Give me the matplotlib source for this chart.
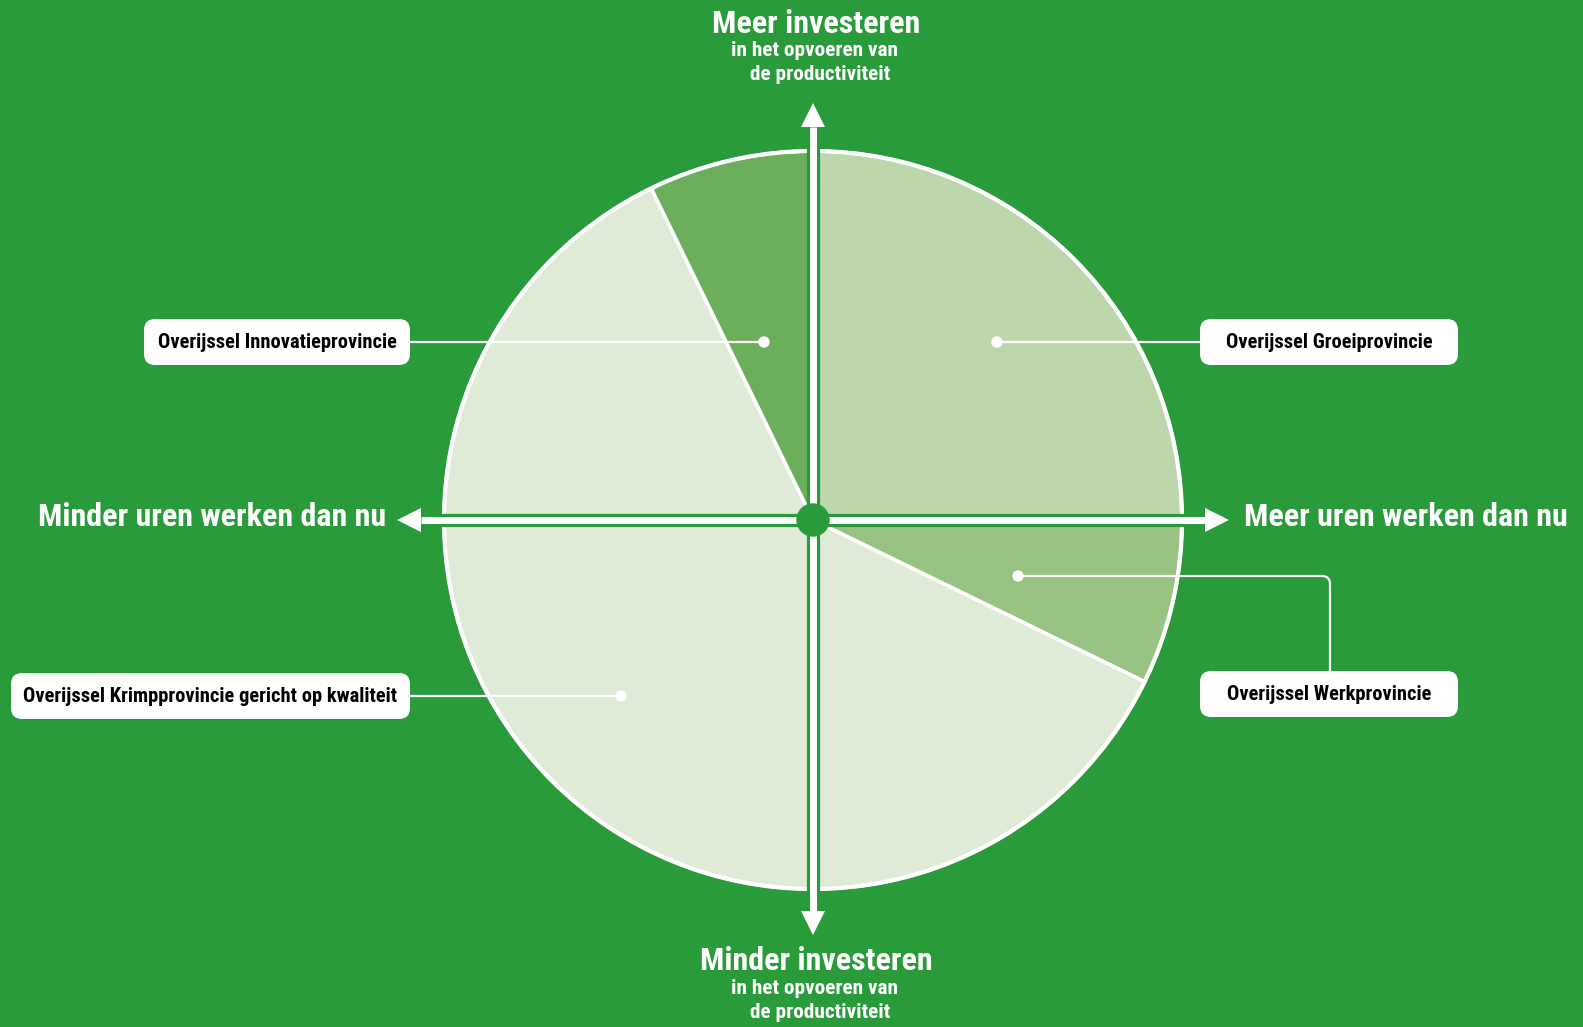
import matplotlib
matplotlib.use("Agg")
import matplotlib.pyplot as plt
from matplotlib import font_manager
from matplotlib.patches import Circle, FancyBboxPatch, PathPatch
from matplotlib.path import Path
import matplotlib.patheffects as pe

# sector sizes (degrees of the circle), clockwise from the top
labels = ["Overijssel Groeiprovincie", "Overijssel Werkprovincie",
          "Overijssel Krimpprovincie gericht op kwaliteit", "Overijssel Innovatieprovincie"]
values = [90, 26, 218, 26]
colors = ["#bdd7ad", "#99c383", "#dfebd7", "#6baf5c"]

axis_top = ["Meer investeren", "in het opvoeren van", "de productiviteit"]
axis_bottom = ["Minder investeren", "in het opvoeren van", "de productiviteit"]
axis_left = "Minder uren werken dan nu"
axis_right = "Meer uren werken dan nu"

BG = "#2a9b3a"
W, H = 1583, 1027

names = {f.name for f in font_manager.fontManager.ttflist}
font = "DejaVu Sans"
for cand in ["Roboto Condensed", "Liberation Sans Narrow", "DejaVu Sans Condensed", "Open Sans Condensed"]:
    if cand in names:
        font = cand
        break
plt.rcParams["font.family"] = [font, "DejaVu Sans"]


def Y(y):
    # image rows -> y-up data coords
    return H - y


fig = plt.figure(figsize=(W / 100, H / 100), dpi=100, facecolor=BG)
ax = fig.add_axes([0, 0, 1, 1])
ax.set_facecolor(BG)

cx, cy, R = 813, 520, 369
ax.pie(values, colors=colors, startangle=90, counterclock=False,
       center=(cx, Y(cy)), radius=R,
       wedgeprops=dict(edgecolor="white", linewidth=2.6))
ax.add_patch(Circle((cx, Y(cy)), R, fill=False, edgecolor="white", lw=3, zorder=3))

# axes arrows: shaft with green outline + triangular heads
stroke = [pe.Stroke(linewidth=9.5, foreground=BG), pe.Normal()]
hl, hw = 24, 12
left, right, top, bottom = 397, 1229, 103, 935
ax.plot([left + hl, right - hl], [Y(cy), Y(cy)], color="white", lw=5,
        solid_capstyle="butt", zorder=5, path_effects=stroke)
ax.plot([cx, cx], [Y(top + hl), Y(bottom - hl)], color="white", lw=5,
        solid_capstyle="butt", zorder=5, path_effects=stroke)
ax.fill([left, left + hl, left + hl], [Y(cy), Y(cy) + hw, Y(cy) - hw], color="white", lw=0, zorder=5)
ax.fill([right, right - hl, right - hl], [Y(cy), Y(cy) + hw, Y(cy) - hw], color="white", lw=0, zorder=5)
ax.fill([cx, cx - hw, cx + hw], [Y(top), Y(top + hl), Y(top + hl)], color="white", lw=0, zorder=5)
ax.fill([cx, cx - hw, cx + hw], [Y(bottom), Y(bottom - hl), Y(bottom - hl)], color="white", lw=0, zorder=5)
ax.add_patch(Circle((cx, Y(cy)), 16, color=BG, zorder=6))

# axis captions
big, small = 23, 15.3
ax.text(816, Y(24), axis_top[0], color="white", fontsize=big, fontweight="bold",
        ha="center", va="center")
ax.text(815, Y(51), axis_top[1], color="white", fontsize=small, fontweight="bold",
        ha="center", va="center")
ax.text(820, Y(75), axis_top[2], color="white", fontsize=small, fontweight="bold",
        ha="center", va="center")
ax.text(816, Y(961), axis_bottom[0], color="white", fontsize=big, fontweight="bold",
        ha="center", va="center")
ax.text(815, Y(988), axis_bottom[1], color="white", fontsize=small, fontweight="bold",
        ha="center", va="center")
ax.text(820, Y(1012), axis_bottom[2], color="white", fontsize=small, fontweight="bold",
        ha="center", va="center")
ax.text(386, Y(517), axis_left, color="white", fontsize=big, fontweight="bold",
        ha="right", va="center")
ax.text(1244, Y(517), axis_right, color="white", fontsize=big, fontweight="bold",
        ha="left", va="center")

# label boxes: (x0, x1, ycenter) and dot position
boxes = [(1200, 1458, 342), (1200, 1458, 694), (11, 410, 696), (144, 410, 342)]
dots = [(997, 342), (1018, 576), (621, 696), (764, 342)]
bh = 46
for lab, (x0, x1, yc), (dx, dy) in zip(labels, boxes, dots):
    ax.add_patch(FancyBboxPatch((x0, Y(yc) - bh / 2), x1 - x0, bh,
                                boxstyle="round,pad=0,rounding_size=11",
                                fc="white", ec="none", zorder=7))
    ax.text((x0 + x1) / 2, Y(yc), lab, color="black", fontsize=14.8,
            fontweight="bold", ha="center", va="center", zorder=8)
    ax.add_patch(Circle((dx, Y(dy)), 5, color="white", zorder=7))

lw = 1.6
ax.plot([410, 764], [Y(342), Y(342)], color="white", lw=lw, zorder=4)
ax.plot([997, 1200], [Y(342), Y(342)], color="white", lw=lw, zorder=4)
ax.plot([410, 621], [Y(696), Y(696)], color="white", lw=lw, zorder=4)
r = 8
path = Path([(1018, Y(576)), (1330 - r, Y(576)), (1330, Y(576)), (1330, Y(576 + r)), (1330, Y(671))],
            [Path.MOVETO, Path.LINETO, Path.CURVE3, Path.CURVE3, Path.LINETO])
ax.add_patch(PathPatch(path, fill=False, ec="white", lw=lw, zorder=4))

ax.set_xlim(0, W)
ax.set_ylim(0, H)
ax.set_aspect("auto")
ax.axis("off")

fig.savefig("out.png", dpi=100, facecolor=BG)
